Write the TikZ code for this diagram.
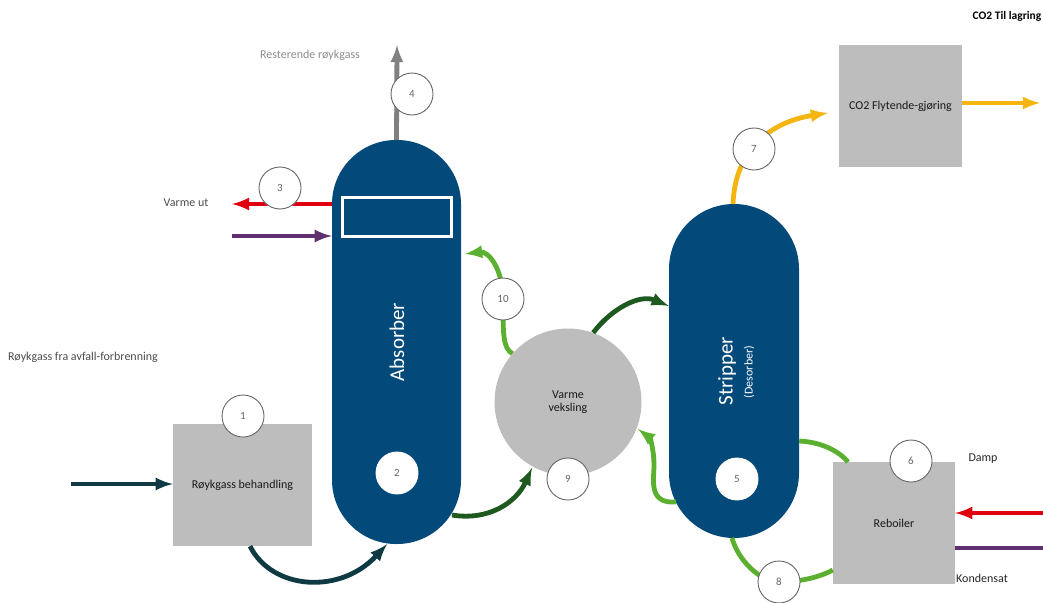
\documentclass[tikz,border=0pt]{standalone}
\usepackage{fontspec}
\setmainfont{Carlito}
\definecolor{tower}{HTML}{03497A}
\definecolor{unit}{HTML}{BDBDBD}
\definecolor{leanline}{HTML}{5CB030}
\definecolor{richline}{HTML}{1E5A20}
\definecolor{fluegas}{HTML}{0F3A44}
\definecolor{coline}{HTML}{F4B510}
\definecolor{heatline}{HTML}{E0000F}
\definecolor{condline}{HTML}{5F2F6E}
\tikzset{
  towerbox/.style={draw=none, fill=tower, rounded corners=64pt, minimum width=129pt},
  unitbox/.style={draw=none, fill=unit, font=\fontsize{12}{13}\selectfont, text=black!90, align=center},
  numdot/.style={circle, draw=black!60, line width=0.9pt, fill=white, minimum size=42pt, inner sep=0pt, font=\fontsize{11}{12}\selectfont, text=black!60},
  numdotplain/.style={numdot, draw=white},
  pipe/.style={line width=4.8pt},
  caption/.style={font=\fontsize{12}{13}\selectfont, text=black!70},
}
\begin{document}
\begin{tikzpicture}[>=latex, x=1pt, y=-1pt]
  \useasboundingbox (0,0) rectangle (1043,602);
  % units
  \node[towerbox, minimum height=404pt] (absorber) at (396.5,342) {};
  \node[towerbox, minimum width=130pt, minimum height=334pt, rounded corners=65pt] (stripper) at (734,371) {};
  \node[unitbox, minimum width=139pt, minimum height=122pt] (treatment) at (242.5,485) {Røykgass behandling};
  \node[unitbox, minimum width=122pt, minimum height=122pt] (reboiler) at (894,523) {Reboiler};
  \node[unitbox, minimum width=123pt, minimum height=122pt] (liquefier) at (900.5,106) {CO2 Flytende-gjøring};
  \node[unitbox, circle, minimum size=147pt, inner sep=0pt] (exchanger) at (568,402) {Varme\\veksling};
  \node[draw=white, line width=3pt, minimum width=109pt, minimum height=39pt] (cooler) at (396.5,217) {};
  % free ends
  \coordinate (gasout) at (397,45);
  \coordinate (heatout) at (232,204);
  \coordinate (condin) at (232,236);
  \coordinate (gasin) at (71,484);
  \coordinate (coout) at (1040,103);
  \coordinate (steamin) at (1043,513);
  \coordinate (condout) at (1043,548);
  % flue gas
  \draw[->, pipe, color=fluegas] (gasin) -- (treatment.west |- gasin);
  \draw[->, pipe, color=fluegas] (treatment.south -| 250,0) .. controls (272,590) and (340,595) .. (absorber.south -| 387,0);
  \draw[->, pipe, color=black!50] (absorber.north) -- (gasout);
  % cooling
  \draw[->, pipe, color=heatline] (absorber.west |- heatout) -- (heatout);
  \draw[->, pipe, color=condline] (condin) -- (absorber.west |- condin);
  % solvent
  \draw[->, pipe, color=richline] (452,515) .. controls (488,521) and (516,503) .. (532,468);
  \draw[->, pipe, color=richline] (exchanger.70) .. controls (612,308) and (640,294) .. (stripper.west |- 0,306);
  \draw[->, pipe, color=leanline] (676,502) .. controls (648,504) and (654,480) .. (654,465) .. controls (654,450) and (650,438) .. (638,429);
  \draw[->, pipe, color=leanline] (exchanger.139) .. controls (503,348) and (503,335) .. (503,300) .. controls (503,268) and (488,251) .. (465,254);
  % reboiler loop
  \draw[pipe, color=leanline] (stripper.east |- 0,441) .. controls (820,442) and (838,450) .. (848,462);
  \draw[pipe, color=leanline] (732,538) .. controls (738,560) and (760,582) .. (779,582) .. controls (800,582) and (820,577) .. (reboiler.west |- 0,570);
  \draw[->, pipe, color=heatline] (steamin) -- (reboiler.east |- steamin);
  \draw[pipe, color=condline] (reboiler.east |- condout) -- (condout);
  % CO2
  \draw[->, pipe, color=coline] (733,204) .. controls (735,150) and (770,122) .. (828,113);
  \draw[->, pipe, color=coline] (liquefier.east |- coout) -- (coout);
  % numbers
  \node[numdot] (one) at (243,416) {1};
  \node[numdotplain] (two) at (397,473) {2};
  \node[numdot] (three) at (280,188) {3};
  \node[numdot] (four) at (412,94) {4};
  \node[numdotplain] (five) at (737,479) {5};
  \node[numdot] (six) at (911,461) {6};
  \node[numdot] (seven) at (754,149) {7};
  \node[numdot] (eight) at (779,582) {8};
  \node[numdot] (nine) at (568,479) {9};
  \node[numdot] (ten) at (503,299) {10};
  % labels
  \node[rotate=90, text=white, font=\fontsize{21}{24}\selectfont] (absorberlabel) at (397,342) {Absorber};
  \node[rotate=90, text=white, font=\fontsize{21}{24}\selectfont] (stripperlabel) at (727,371) {Stripper};
  \node[rotate=90, text=white, font=\fontsize{12}{13}\selectfont] (desorberlabel) at (749,372) {(Desorber)};
  \node[caption, text=black!45] (restlabel) at (310,55) {Resterende røykgass};
  \node[caption] (varmelabel) at (186,203) {Varme ut};
  \node[caption, anchor=west, inner sep=0pt] (gaslabel) at (8,357) {Røykgass fra avfall-forbrenning};
  \node[caption, text=black, font=\fontsize{11.5}{13}\bfseries] (colabel) at (1007,16) {CO2 Til lagring};
  \node[caption, text=black!85] (damplabel) at (983,459) {Damp};
  \node[caption, text=black!85, anchor=west, inner sep=0pt] (kondlabel) at (956,578) {Kondensat};
\end{tikzpicture}
\end{document}
